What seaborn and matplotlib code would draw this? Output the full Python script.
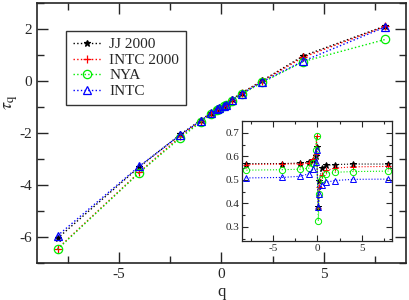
import numpy as np
import pandas as pd
import matplotlib
matplotlib.use('Agg')
import matplotlib.pyplot as plt
import seaborn as sns
from matplotlib.ticker import MultipleLocator

q = [-8, -4, -2, -1, -0.5, -0.2, -0.1, 0.1, 0.2, 0.5, 1, 2, 4, 8]

# main panel: tau(q)
tau_jj = [-6.05, -3.30, -2.05, -1.50, -1.22, -1.08, -1.04, -0.96, -0.90, -0.71, -0.45, 0.02, 0.97, 2.12]
tau_intc00 = [-6.45, -3.50, -2.13, -1.53, -1.24, -1.09, -1.05, -0.96, -0.91, -0.73, -0.47, 0.00, 0.92, 2.10]
tau_nya = [-6.47, -3.52, -2.18, -1.57, -1.27, -1.11, -1.06, -0.97, -0.92, -0.75, -0.50, -0.05, 0.75, 1.60]
tau_intc = [-5.95, -3.27, -2.07, -1.52, -1.23, -1.09, -1.05, -0.96, -0.91, -0.74, -0.49, -0.02, 0.77, 2.08]

# inset values
h_jj = [0.569, 0.569, 0.571, 0.574, 0.585, 0.600, 0.640, 0.385, 0.493, 0.550, 0.561, 0.565, 0.567, 0.567]
h_intc00 = [0.565, 0.567, 0.568, 0.572, 0.590, 0.610, 0.685, 0.380, 0.470, 0.520, 0.540, 0.550, 0.555, 0.557]
h_nya = [0.541, 0.543, 0.545, 0.549, 0.570, 0.625, 0.685, 0.325, 0.440, 0.505, 0.525, 0.532, 0.535, 0.537]
h_intc = [0.508, 0.510, 0.515, 0.525, 0.545, 0.575, 0.625, 0.385, 0.440, 0.480, 0.490, 0.497, 0.502, 0.503]

labels = ['JJ 2000', 'INTC 2000', 'NYA', 'INTC']
colors = ['black', '#ff0000', '#00ee00', '#0000ff']
markers = ['*', '+', 'o', '^']
taus = [tau_jj, tau_intc00, tau_nya, tau_intc]
hs = [h_jj, h_intc00, h_nya, h_intc]

sns.set_style('ticks')
plt.rcParams['font.family'] = ['Liberation Serif', 'DejaVu Serif']
plt.rcParams['mathtext.fontset'] = 'stix'
plt.rcParams['axes.unicode_minus'] = False

fig = plt.figure(figsize=(4.09, 3.0), dpi=100)
ax = fig.add_axes([0.0905, 0.1233, 0.902, 0.8667])

for lab, c, m, t in zip(labels, colors, markers, taus):
    fill = c if m in ('*', '+') else 'none'
    sns.lineplot(x=q, y=t, ax=ax, color=c, marker=m, markersize=6 if m != '*' else 5,
                 mfc=fill, mec=c, mew=0.9, linestyle=':', linewidth=1.0, label=lab)

ax.set_xlim(-9, 9)
ax.set_ylim(-7, 3)
ax.xaxis.set_major_locator(MultipleLocator(5))
ax.xaxis.set_minor_locator(MultipleLocator(2.5))
ax.yaxis.set_major_locator(MultipleLocator(2))
ax.yaxis.set_minor_locator(MultipleLocator(1))
ax.tick_params(which='both', direction='in', top=True, right=True, labelsize=11, width=1.0)
ax.tick_params(which='major', length=8)
ax.tick_params(which='minor', length=5)
for s in ax.spines.values():
    s.set_linewidth(1.2)
ax.set_xlabel('q', fontsize=12, labelpad=2)
ax.set_ylabel(r'$\tau_{\mathrm{q}}$', fontsize=13, labelpad=2)
ax.yaxis.set_label_coords(-0.045, 0.62)

leg = ax.legend(loc='upper left', bbox_to_anchor=(0.078, 0.893), fontsize=11,
                frameon=True, fancybox=False, handlelength=1.9, borderpad=0.45,
                labelspacing=0.12, handletextpad=0.5, borderaxespad=0)
leg.get_frame().set_edgecolor('black')
leg.get_frame().set_linewidth(1.0)

# inset
axi = fig.add_axes([0.5917, 0.1967, 0.3667, 0.40])
for lab, c, m, h in zip(labels, colors, markers, hs):
    fill = c if m in ('*', '+') else 'none'
    sns.lineplot(x=q, y=h, ax=axi, color=c, marker=m, markersize=4.5,
                 mfc=fill, mec=c, mew=0.7, linestyle=':', linewidth=0.8, legend=False)
axi.set_xlim(-8.5, 8.4)
axi.set_ylim(0.24, 0.75)
axi.xaxis.set_major_locator(MultipleLocator(5))
axi.xaxis.set_minor_locator(MultipleLocator(2.5))
axi.yaxis.set_major_locator(MultipleLocator(0.1))
axi.yaxis.set_minor_locator(MultipleLocator(0.05))
axi.tick_params(which='both', direction='in', top=True, right=True, labelsize=8, width=0.8, pad=2)
axi.tick_params(which='major', length=4)
axi.tick_params(which='minor', length=2.5)
axi.set_xlabel('')
axi.set_ylabel('')
for s in axi.spines.values():
    s.set_linewidth(0.9)

fig.savefig('out.png', dpi=100)
